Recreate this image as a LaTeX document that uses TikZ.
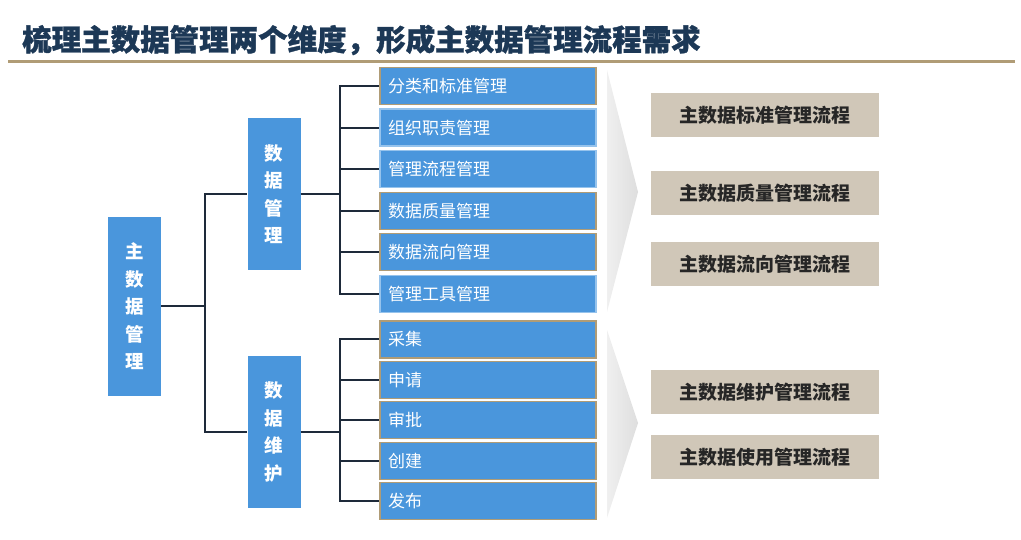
\documentclass[tikz,border=0pt]{standalone}
\usepackage{fontspec}
\setmainfont{Noto Sans CJK SC}
\newfontfamily\titlefont{Noto Sans CJK SC}[BoldFeatures={FakeBold=1.2}]
\definecolor{boxblue}{RGB}{74,150,220}
\definecolor{tanline}{RGB}{176,156,118}
\definecolor{tanfill}{RGB}{208,199,184}
\definecolor{titleblue}{RGB}{28,56,86}
\definecolor{linkdark}{RGB}{30,42,58}
\definecolor{lightedge}{RGB}{150,195,236}
\tikzset{
	vbox/.style={fill=boxblue,text=white,minimum width=53pt,align=center,font=\fontsize{18.5}{27.5}\selectfont\bfseries},
	item/.style={fill=boxblue,line width=1.2pt,text=white,minimum height=37pt,text width=200pt,inner xsep=8pt,align=left,font=\fontsize{17}{18}\selectfont},
	flow/.style={fill=tanfill,minimum width=228pt,minimum height=44pt,font=\fontsize{19}{20}\selectfont\bfseries,text=black!85},
	link/.style={draw=linkdark,line width=2pt}
}
\begin{document}
\begin{tikzpicture}[x=1pt,y=-1pt]
		\useasboundingbox (0,0) rectangle (1021,540);
		\node[anchor=west,text=titleblue,font=\titlefont\fontsize{29.5}{30}\selectfont\bfseries,inner sep=0pt] (title) at (22,40) {梳理主数据管理两个维度，形成主数据管理流程需求};
		\draw[tanline,line width=3pt] (8,62) -- (1015,62);
		\node[vbox,minimum height=179pt] (main) at (134.5,306.5) {主\\数\\据\\管\\理};
		\node[vbox,minimum height=152pt] (dm) at (274,194) {数\\据\\管\\理};
		\node[vbox,minimum height=152pt] (dw) at (274,432) {数\\据\\维\\护};
		\foreach \t/\c [count=\i] in {分类和标准管理/tanline,组织职责管理/lightedge,管理流程管理/lightedge,数据质量管理/tanline,数据流向管理/tanline,管理工具管理/lightedge}
			\node[item,draw=\c] (u\i) at (488,{44.4+41.6*\i}) {\t};
		\foreach \t [count=\i] in {采集,申请,审批,创建,发布}
			\node[item,draw=tanline] (l\i) at (488,{299.1+40.4*\i}) {\t};
		\coordinate (j1) at (205,306.5);
		\draw[link] (main.east) -- (j1) |- (dm.west);
		\draw[link] (j1) |- (dw.west);
		\draw[link] (dm.east) -- ++(39,0) coordinate (j2);
		\foreach \i in {1,...,6}
			\draw[link] (j2) |- (u\i.west);
		\draw[link] (dw.east) -- ++(39,0) coordinate (j3);
		\foreach \i in {1,...,5}
			\draw[link] (j3) |- (l\i.west);
		\shade[left color=gray!12,right color=gray!26] (607,70) -- (638,192) -- (607,312) -- cycle;
		\shade[left color=gray!12,right color=gray!26] (607,330) -- (638,423) -- (607,518) -- cycle;
		\foreach \t/\y [count=\i] in {主数据标准管理流程/115,主数据质量管理流程/193,主数据流向管理流程/264,主数据维护管理流程/392,主数据使用管理流程/457}
			\node[flow] (f\i) at (765,\y) {\t};
\end{tikzpicture}
\end{document}
